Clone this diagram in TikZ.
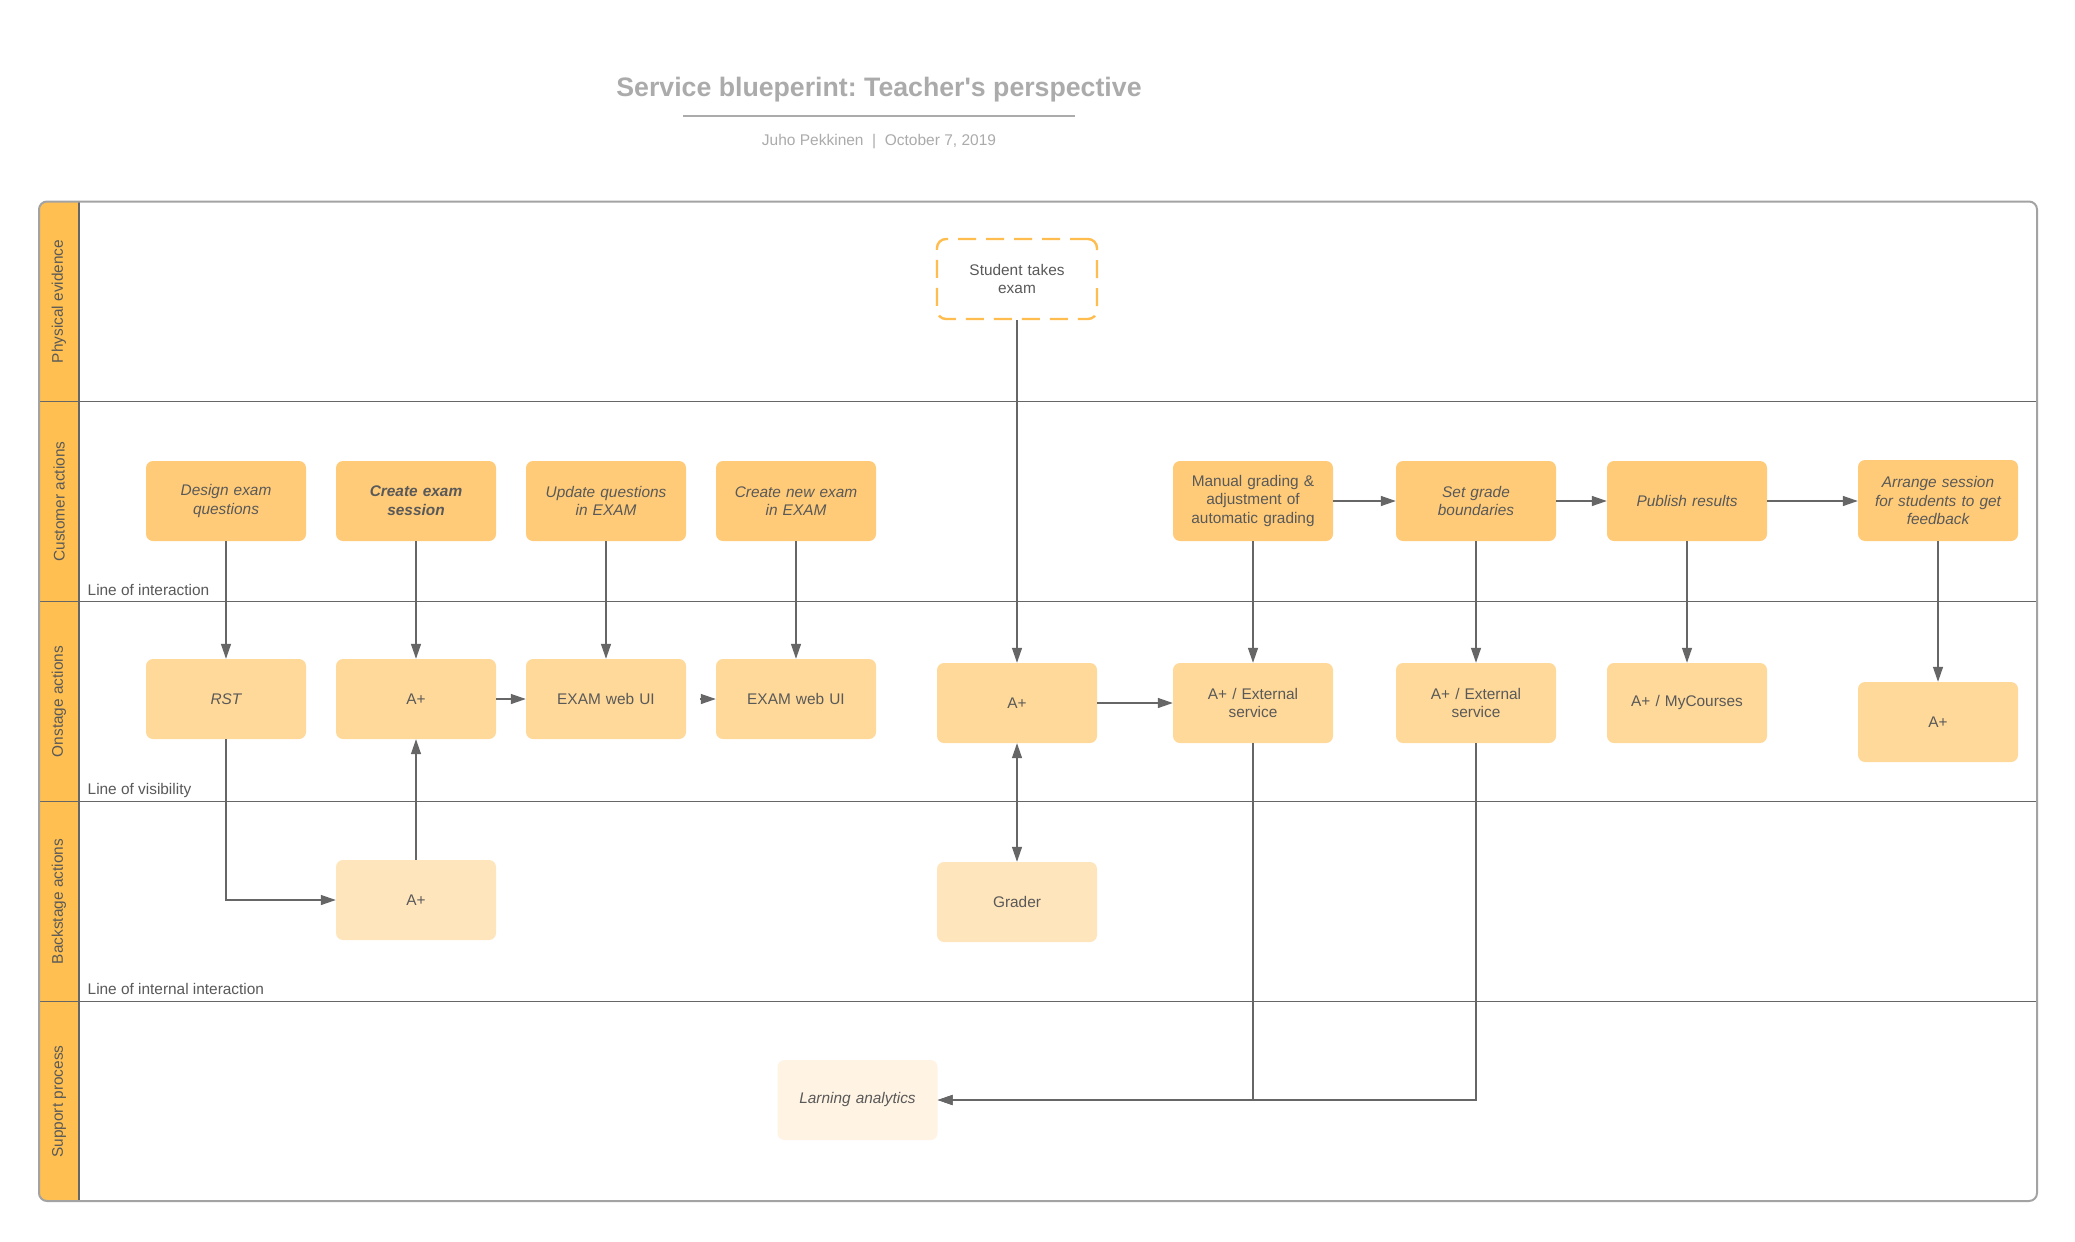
\documentclass[tikz,border=0pt]{standalone}
\usepackage{fontspec}
\setmainfont{Liberation Sans}
\usetikzlibrary{arrows.meta}
\definecolor{stripc}{HTML}{FFC051}
\definecolor{custc}{HTML}{FFCB78}
\definecolor{onstc}{HTML}{FFD999}
\definecolor{backc}{HTML}{FFE5BC}
\definecolor{suppc}{HTML}{FFF3E3}
\definecolor{dashc}{HTML}{FFBD4F}
\definecolor{txtc}{HTML}{595959}
\definecolor{lnc}{HTML}{666666}
\definecolor{framec}{HTML}{A3A3A3}
\definecolor{ttlc}{HTML}{ABABAB}
\newcommand\boxfont{\fontsize{15.4}{18.7}\selectfont}
\frenchspacing
\begin{document}
\begin{tikzpicture}[x=1pt,y=-1pt,
  box/.style={rounded corners=7pt, minimum width=160pt, minimum height=80pt, inner sep=0pt,
    text width=152pt, align=center, text=txtc, font=\boxfont},
  cust/.style={box, fill=custc},
  onst/.style={box, fill=onstc},
  back/.style={box, fill=backc},
  supp/.style={box, fill=suppc},
  evid/.style={box, draw=dashc, line width=2.4pt, dash pattern=on 18pt off 10pt, rounded corners=9pt, fill=white},
  lanelbl/.style={rotate=90, text=txtc, font=\boxfont, inner sep=0pt},
  linelbl/.style={anchor=base west, text=txtc, font=\boxfont, inner sep=0pt},
  laneline/.style={draw=lnc, line width=1.4pt},
  arr/.style={draw=lnc, line width=1.3pt, -{Triangle[length=15pt,width=10pt]}},
  dblarr/.style={draw=lnc, line width=1.3pt, {Triangle[length=15pt,width=10pt]}-{Triangle[length=15pt,width=10pt]}}
]
\useasboundingbox (0,0) rectangle (2075,1242);
\fill[white] (0,0) rectangle (2075,1242);

% title
\node[anchor=base, text=ttlc, font=\fontsize{26.7}{30}\selectfont\bfseries, inner sep=0pt] (title) at (879,96) {Service blueperint: Teacher\textquotesingle s perspective};
\coordinate (rl) at (683,115.7);
\coordinate (rr) at (1075,115.7);
\draw[draw=ttlc, line width=2pt] (rl) -- (rr);
\node[anchor=base, text=ttlc, font=\fontsize{15.5}{18}\selectfont, inner sep=0pt] (sub) at (879,145) {Juho Pekkinen\ \ |\ \ October 7, 2019};

% lanes
\begin{scope}
\clip[rounded corners=8pt] (39,201.5) rectangle (2037,1201);
\fill[stripc] (39,201.5) rectangle (79,1201);
\end{scope}
\foreach \yy in {401.5,601.5,801.5,1001.5} \draw[laneline] (39,\yy) -- (2037,\yy);
\draw[laneline] (79,201.5) -- (79,1201);
\draw[draw=framec, line width=2pt, rounded corners=8pt] (39,201.5) rectangle (2037,1201);

\node[lanelbl] (l1) at (59,301.5) {Physical evidence};
\node[lanelbl] (l2) at (59,501.5) {Customer actions};
\node[lanelbl] (l3) at (59,701.5) {Onstage actions};
\node[lanelbl] (l4) at (59,901.5) {Backstage actions};
\node[lanelbl] (l5) at (59,1101.5) {Support process};

\node[linelbl] (li1) at (87.5,595) {Line of interaction};
\node[linelbl] (li2) at (87.5,794.5) {Line of visibility};
\node[linelbl] (li3) at (87.5,994.5) {Line of internal interaction};

% physical evidence
\node[evid] (pe) at (1017,279) {Student takes\\exam};

% customer actions
\node[cust] (c1) at (226,501) {\itshape Design exam\\questions};
\node[cust] (c2) at (416,501) {\bfseries\itshape Create exam\\session};
\node[cust] (c3) at (606,501) {\itshape Update questions\\in EXAM};
\node[cust] (c4) at (796,501) {\itshape Create new exam\\in EXAM};
\node[cust] (c5) at (1253,501) {Manual grading \&\\adjustment of\\automatic grading};
\node[cust] (c6) at (1476,501) {\itshape Set grade\\boundaries};
\node[cust] (c7) at (1687,501) {\itshape Publish results};
\node[cust, minimum height=81pt] (c8) at (1938,500.5) {\itshape Arrange session\\for students to get\\feedback};

% onstage actions
\node[onst] (o1) at (226,699) {\itshape RST};
\node[onst] (o2) at (416,699) {A+};
\node[onst] (o3) at (606,699) {EXAM web UI};
\node[onst] (o4) at (796,699) {EXAM web UI};
\node[onst] (o5) at (1017,703) {A+};
\node[onst] (o6) at (1253,703) {A+ / External\\service};
\node[onst] (o7) at (1476,703) {A+ / External\\service};
\node[onst] (o8) at (1687,703) {A+ / MyCourses};
\node[onst] (o9) at (1938,722) {A+};

% backstage
\node[back] (b1) at (416,900) {A+};
\node[back] (b2) at (1017,902) {Grader};

% support
\node[supp] (s1) at (857.5,1100) {\itshape Larning analytics};

% connectors
\draw[arr] (c1) -- (o1);
\draw[arr] (c2) -- (o2);
\draw[arr] (c3) -- (o3);
\draw[arr] (c4) -- (o4);
\draw[arr] (pe) -- (o5);
\draw[arr] (c5) -- (o6);
\draw[arr] (c6) -- (o7);
\draw[arr] (c7) -- (o8);
\draw[arr] (c8) -- (o9);
\draw[arr] (c5) -- (c6);
\draw[arr] (c6) -- (c7);
\draw[arr] (c7.east) -- (c8.west |- c7.east);
\draw[arr] (o2) -- (o3);
\draw[arr, shorten <=14pt] (o3) -- (o4);
\draw[arr] (o5) -- (o6);
\draw[dblarr] (o5) -- (b2);
\draw[arr] (o1.south) |- (b1.west);
\draw[arr] (b1) -- (o2);
\draw[arr] (o6.south) |- (s1.east);
\draw[arr] (o7.south) |- (s1.east);
\end{tikzpicture}
\end{document}
